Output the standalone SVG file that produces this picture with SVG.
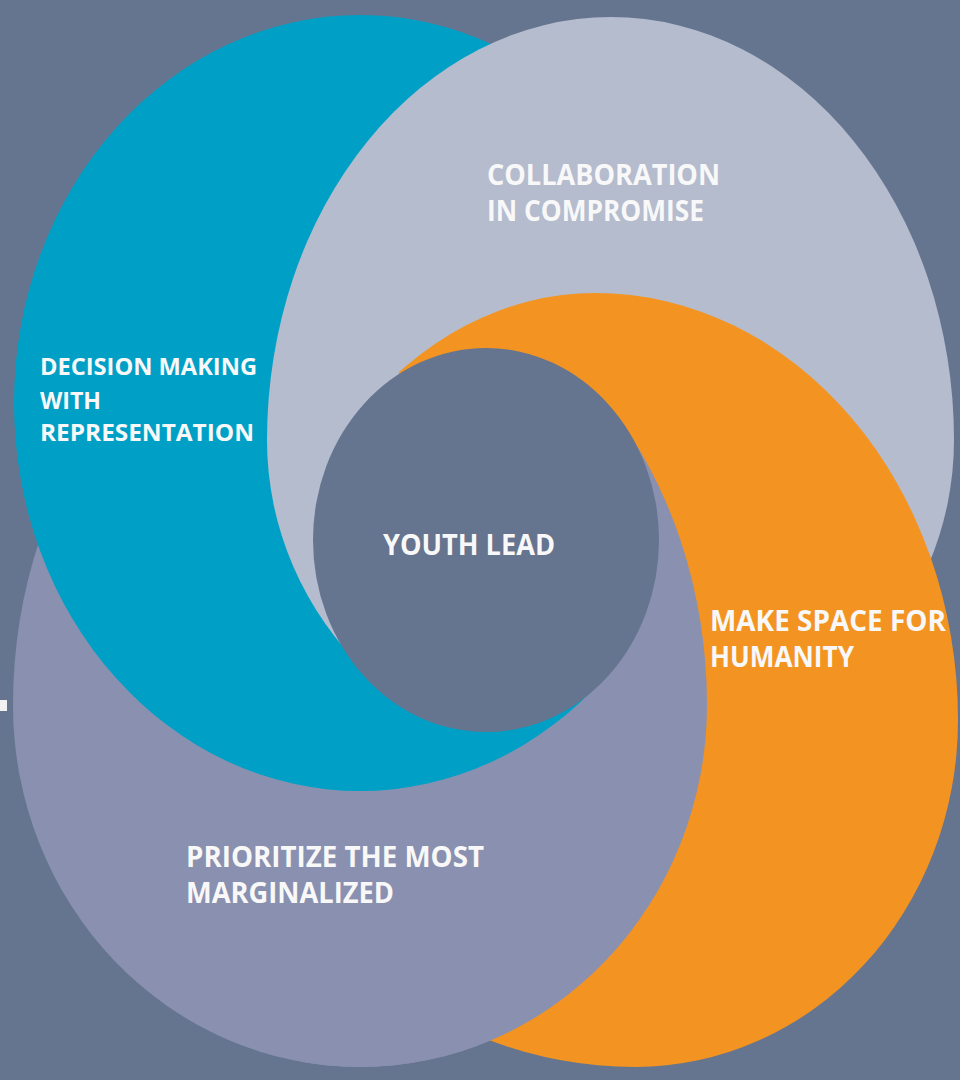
<svg xmlns="http://www.w3.org/2000/svg" width="960" height="1080" viewBox="0 0 960 1080">
<style>
.bg{fill:#66758F}
.blue{fill:#00A0C6}
.gray{fill:#B5BCCE}
.orange{fill:#F39422}
.lav{fill:#8A90B0}
.core{fill:#65748F}
.lbl{font-family:"Open Sans","Liberation Sans",Arial,sans-serif;font-weight:700;fill:#F8F8F8}
.big{font-size:29px}
.small{font-size:24px}
</style>
<defs>
<path id="shape-lav" d="M13,705 A347,430 0 0 1 360,275 A347,430 0 0 1 707,705 A347,362 0 0 1 360,1067 A347,362 0 0 1 13,705 Z"/>
<ellipse id="shape-blue" cx="360" cy="403" rx="346" ry="388"/>
<path id="shape-gray" d="M267,440 A344,423 0 0 1 611,17 A343,423 0 0 1 954,440 A343,330 0 0 1 611,770 A344,330 0 0 1 267,440 Z"/>
<path id="shape-orange" d="M257,720 A338,427 0 0 1 595,293 A363,427 0 0 1 958,720 A323,347 0 0 1 635,1067 A378,347 0 0 1 257,720 Z"/>
<clipPath id="clip-gray"><polygon points="0,0 960,0 960,600 640,600 600,650 450,700 300,700 0,700"/></clipPath>
<clipPath id="clip-orange"><polygon points="398,0 960,0 960,1080 440,1080 600,900 660,700 620,610 440,420 398,372"/></clipPath>
<clipPath id="clip-lav"><polygon points="570,440 960,440 960,1080 300,1080 300,830 470,800 560,738 602,694 570,600"/></clipPath>
</defs>
<rect class="bg" x="0" y="0" width="960" height="1080"/>
<rect x="0" y="700" width="7" height="11" fill="#F2F2F2"/>
<g id="node-marginalized">
<use href="#shape-lav" class="lav"/>
</g>
<g id="node-decision">
<use href="#shape-blue" class="blue"/>
</g>
<g id="node-collaboration">
<use href="#shape-gray" class="gray" clip-path="url(#clip-gray)"/>
</g>
<g id="node-humanity">
<use href="#shape-orange" class="orange" clip-path="url(#clip-orange)"/>
</g>
<g id="node-marginalized-front">
<use href="#shape-lav" class="lav" clip-path="url(#clip-lav)"/>
</g>
<g id="node-youth">
<ellipse class="core" cx="486" cy="540" rx="173" ry="192"/>
</g>
<g id="connectors"></g>
<g id="labels">
<g id="label-collaboration">
<text class="lbl big" x="487" y="185" textLength="233" lengthAdjust="spacingAndGlyphs">COLLABORATION</text>
<text class="lbl big" x="487" y="221" textLength="217" lengthAdjust="spacingAndGlyphs">IN COMPROMISE</text>
</g>
<g id="label-decision">
<text class="lbl small" x="40" y="375" textLength="217" lengthAdjust="spacingAndGlyphs">DECISION MAKING</text>
<text class="lbl small" x="40" y="409" textLength="61" lengthAdjust="spacingAndGlyphs">WITH</text>
<text class="lbl small" x="40" y="441" textLength="214" lengthAdjust="spacingAndGlyphs">REPRESENTATION</text>
</g>
<g id="label-youth">
<text class="lbl big" x="383" y="555" textLength="172" lengthAdjust="spacingAndGlyphs">YOUTH LEAD</text>
</g>
<g id="label-humanity">
<text class="lbl big" x="710" y="631" textLength="236" lengthAdjust="spacingAndGlyphs">MAKE SPACE FOR</text>
<text class="lbl big" x="710" y="667" textLength="144" lengthAdjust="spacingAndGlyphs">HUMANITY</text>
</g>
<g id="label-marginalized">
<text class="lbl big" x="186" y="867" textLength="298" lengthAdjust="spacingAndGlyphs">PRIORITIZE THE MOST</text>
<text class="lbl big" x="186" y="903" textLength="208" lengthAdjust="spacingAndGlyphs">MARGINALIZED</text>
</g>
</g>
</svg>
